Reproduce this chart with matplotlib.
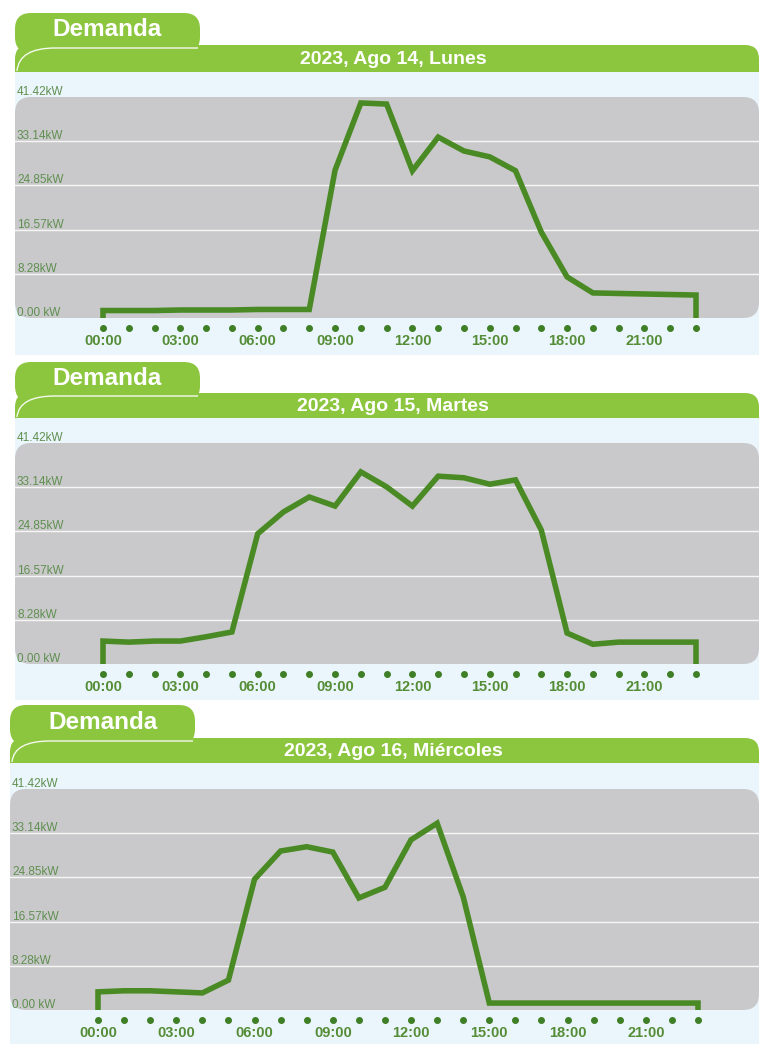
import matplotlib
matplotlib.use("Agg")
import matplotlib.pyplot as plt
from matplotlib.patches import FancyBboxPatch, Rectangle, PathPatch
from matplotlib.path import Path

plt.rcParams['font.family'] = ['Liberation Sans', 'DejaVu Sans']

# data: hourly demand in kW, one list per day
hours = list(range(24))
hour_labels = ['00:00', '03:00', '06:00', '09:00', '12:00', '15:00', '18:00', '21:00']
y_ticks = [0.00, 8.28, 16.57, 24.85, 33.14, 41.42]
y_tick_labels = ['0.00 kW', '8.28kW', '16.57kW', '24.85kW', '33.14kW', '41.42kW']

titles = ['2023, Ago 14, Lunes', '2023, Ago 15, Martes', '2023, Ago 16, Miércoles']

lunes = [1.4, 1.4, 1.4, 1.5, 1.5, 1.5, 1.6, 1.6, 1.6, 27.7, 40.3, 40.1,
         27.6, 33.9, 31.3, 30.2, 27.6, 16.1, 7.7, 4.7, 4.6, 4.5, 4.4, 4.3]
martes = [4.3, 4.1, 4.3, 4.3, 5.1, 6.0, 24.4, 28.5, 31.3, 29.6, 36.0, 33.2,
          29.6, 35.2, 34.9, 33.7, 34.5, 25.1, 5.8, 3.7, 4.1, 4.1, 4.1, 4.1]
miercoles = [3.4, 3.6, 3.6, 3.4, 3.2, 5.6, 24.5, 29.8, 30.6, 29.6, 21.0, 23.0,
             31.9, 35.0, 21.2, 1.3, 1.3, 1.3, 1.3, 1.3, 1.3, 1.3, 1.3, 1.3]
series = [lunes, martes, miercoles]

# layout of each panel, in pixels of the 759x1044 picture
panels = [
    dict(left=15, tab_top=13, tab_right=200, bar_top=45, bar_bot=72,
         gray_top=97, gray_bot=318, blue_bot=355, x0=103, x23=696),
    dict(left=15, tab_top=362, tab_right=200, bar_top=393, bar_bot=418,
         gray_top=443, gray_bot=664, blue_bot=700, x0=103, x23=696),
    dict(left=10, tab_top=705, tab_right=195, bar_top=738, bar_bot=763,
         gray_top=789, gray_bot=1010, blue_bot=1044, x0=98, x23=698),
]

W, H = 759, 1044
GREEN = '#8cc63f'
BLUE = '#eaf5fc'
GRAY = '#c9c9cb'
LINE = '#4a8a24'
DOT = '#3f7f26'
TXT_GREEN = '#558d36'
YLAB = '#5f8f4f'

fig = plt.figure(figsize=(W / 100, H / 100), dpi=100)
bg = fig.add_axes([0, 0, 1, 1])
bg.set_xlim(0, W)
bg.set_ylim(H, 0)
bg.axis('off')

for p, title, vals in zip(panels, titles, series):
    L = p['left']
    # tab "Demanda"
    bg.add_patch(FancyBboxPatch((L, p['tab_top']), p['tab_right'] - L, 40,
                                boxstyle='round,pad=0,rounding_size=16',
                                fc=GREEN, ec='none'))
    bg.text((L + p['tab_right']) / 2, (p['tab_top'] + p['bar_top']) / 2 + 1, 'Demanda',
            color='white', fontsize=17.5, fontweight='bold', ha='center', va='center')
    # title bar
    bg.add_patch(FancyBboxPatch((L, p['bar_top']), W - L, 40,
                                boxstyle='round,pad=0,rounding_size=14',
                                fc=GREEN, ec='none'))
    hl = Path([(L + 2, p['bar_bot'] - 1), (L + 4, p['bar_top'] + 3),
               (L + 40, p['bar_top'] + 3), (p['tab_right'] - 2, p['bar_top'] + 3)],
              [Path.MOVETO, Path.CURVE3, Path.CURVE3, Path.LINETO])
    bg.add_patch(PathPatch(hl, fc='none', ec='white', lw=1.0, alpha=0.9))
    bg.text(393, (p['bar_top'] + p['bar_bot']) / 2 + 1, title,
            color='white', fontsize=14, fontweight='bold', ha='center', va='center')
    # light blue body and gray plot area
    bg.add_patch(Rectangle((L, p['bar_bot']), W - L, p['blue_bot'] - p['bar_bot'],
                           fc=BLUE, ec='none'))
    bg.add_patch(FancyBboxPatch((L, p['gray_top']), W - L, p['gray_bot'] - p['gray_top'],
                                boxstyle='round,pad=0,rounding_size=16',
                                fc=GRAY, ec='none'))

    # data axes sitting on the gray area
    gh = p['gray_bot'] - p['gray_top']
    ax = fig.add_axes([L / W, 1 - p['gray_bot'] / H, (W - L) / W, gh / H])
    ax.patch.set_visible(False)
    for s in ax.spines.values():
        s.set_visible(False)
    ax.set_xticks([])
    ax.set_yticks([])
    pxh = (p['x23'] - p['x0']) / 23.0
    ax.set_xlim(-(p['x0'] - L) / pxh, 23 + (W - p['x23']) / pxh)
    ax.set_ylim(y_ticks[0], y_ticks[-1])

    for v in y_ticks[1:-1]:
        ax.axhline(v, color='white', lw=1.0, alpha=0.85)
    for v, lab in zip(y_ticks, y_tick_labels):
        ax.annotate(lab, xy=(0, v), xycoords=ax.get_yaxis_transform(),
                    xytext=(2, 5), textcoords='offset pixels',
                    ha='left', va='center', fontsize=8.5, color=YLAB,
                    annotation_clip=False)

    xs = [hours[0]] + hours + [hours[-1]]
    ys = [0] + vals + [0]
    ax.plot(xs, ys, color=LINE, lw=4.0, solid_joinstyle='miter',
            solid_capstyle='butt', clip_on=False)

    xt = ax.get_xaxis_transform()
    ax.plot(hours, [-10 / gh] * len(hours), 'o', ms=4, color=DOT,
            transform=xt, clip_on=False)
    for h, lab in zip(hours[::3], hour_labels):
        ax.text(h, -23 / gh, lab, transform=xt, ha='center', va='center',
                fontsize=10.5, fontweight='bold', color=TXT_GREEN)

fig.savefig('out.png', dpi=100, facecolor='white')
